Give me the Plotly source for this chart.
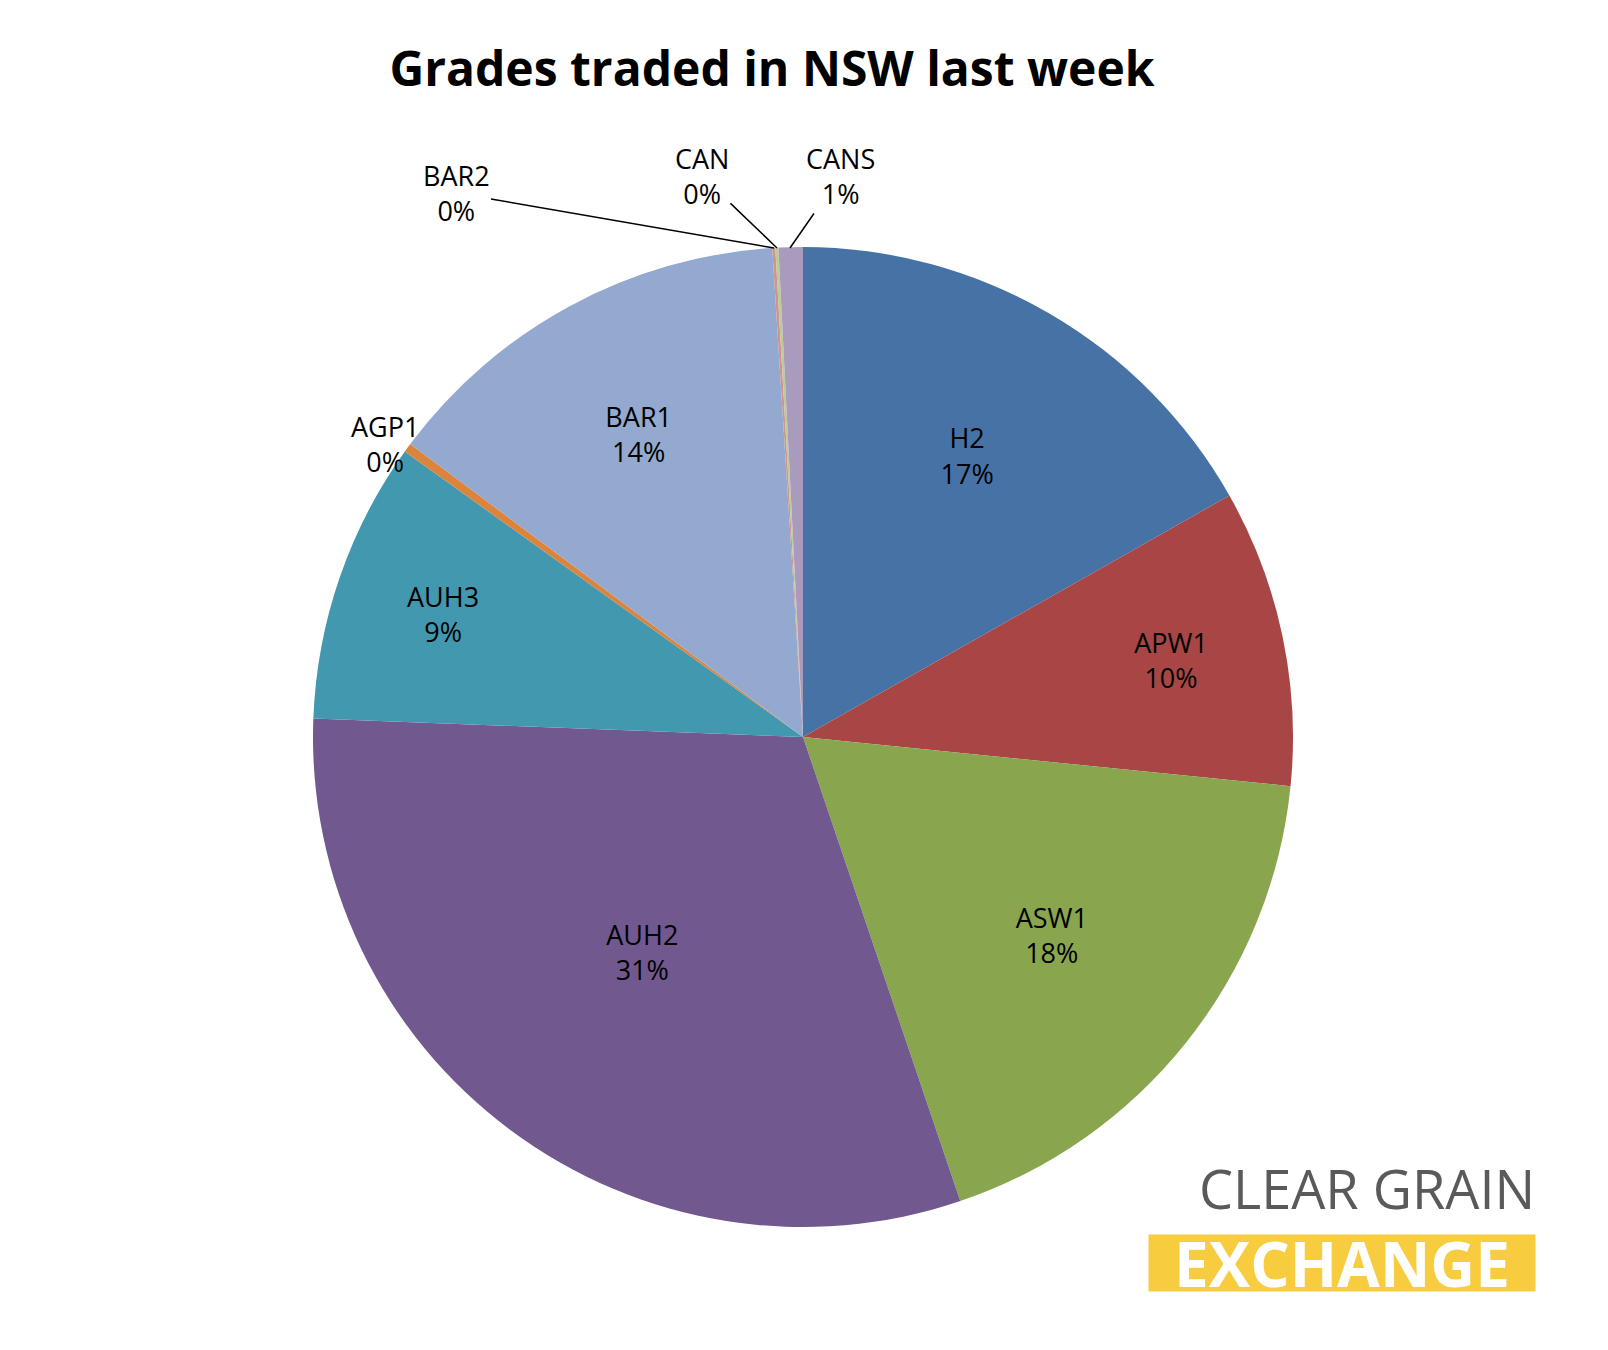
import plotly.graph_objects as go

labels = ["H2", "APW1", "ASW1", "AUH2", "AUH3", "AGP1", "BAR1", "BAR2", "CAN", "CANS"]
values = [16.8, 9.8, 18.2, 30.8, 9.3, 0.3, 13.8, 0.1, 0.1, 0.8]
colors = ["#4672A6", "#A84646", "#89A54E", "#71588F", "#4198AF", "#DB843D",
          "#93A9CF", "#D19392", "#B9CD96", "#A99BBD"]
small = {"AGP1", "BAR2", "CAN", "CANS"}

W, H = 1608, 1350
texts = ["" if l in small else f"{l}<br>{round(v)}%" for l, v in zip(labels, values)]
R = 490
CX, CY = 795, 729
DX, DY = CX - 806, CY - 735

fig = go.Figure(go.Pie(
    labels=labels, values=values, sort=False, direction="clockwise", rotation=0,
    marker=dict(colors=colors, line=dict(width=0)),
    text=texts, textinfo="text", textposition="inside", insidetextorientation="horizontal",
    textfont=dict(family="Open Sans", size=27, color="black"),
    domain=dict(x=[(CX-R)/W, (CX+R)/W], y=[1-(CY+R)/H, 1-(CY-R)/H]),
    showlegend=False, hoverinfo="label+percent",
))

font = dict(family="Open Sans", size=27, color="black")
pct = {l: round(v) for l, v in zip(labels, values)}
ann = []
def px(x, y):
    return x / W, 1 - y / H
for lab, tip, off in [("BAR2", (777 + DX, 246 + DY), (-318, -55)),
                      ("CAN", (780 + DX, 246 + DY), (-75, -72)),
                      ("CANS", (793 + DX, 246 + DY), (50, -72))]:
    x, y = px(*tip)
    ann.append(dict(x=x, y=y, xref="paper", yref="paper", text=f"{lab}<br>{pct[lab]}%",
                    showarrow=True, arrowhead=0, arrowwidth=1.5, arrowcolor="black",
                    ax=off[0], ay=off[1], font=font))
x, y = px(352 + DX, 404 + DY)
ann.append(dict(x=x, y=y, xref="paper", yref="paper", text="AGP1<br>0%", showarrow=False, font=font))

x, y = px(1528, 1218)
ann.append(dict(x=x, y=y, xref="paper", yref="paper", text="CLEAR GRAIN", showarrow=False,
                xanchor="right", yanchor="bottom", borderpad=0,
                font=dict(family="Open Sans", size=54, color="#5a5a5a")))
x, y = px(1528, 1284)
ann.append(dict(x=x, y=y, xref="paper", yref="paper", text="<b>EXCHANGE</b>", showarrow=False,
                xanchor="right", yanchor="bottom", width=386, height=56,
                bgcolor="#F7CC3F", borderpad=0,
                font=dict(family="Open Sans", size=62, color="white")))

fig.update_layout(
    width=W, height=H, margin=dict(l=0, r=0, t=0, b=0),
    paper_bgcolor="white", plot_bgcolor="white",
    title=dict(text="<b>Grades traded in NSW last week</b>", x=764/W, xanchor="center",
               y=1-61/H, yanchor="middle",
               font=dict(family="Open Sans", size=48, color="black")),
    annotations=ann,
)
fig.write_html("out.html")
